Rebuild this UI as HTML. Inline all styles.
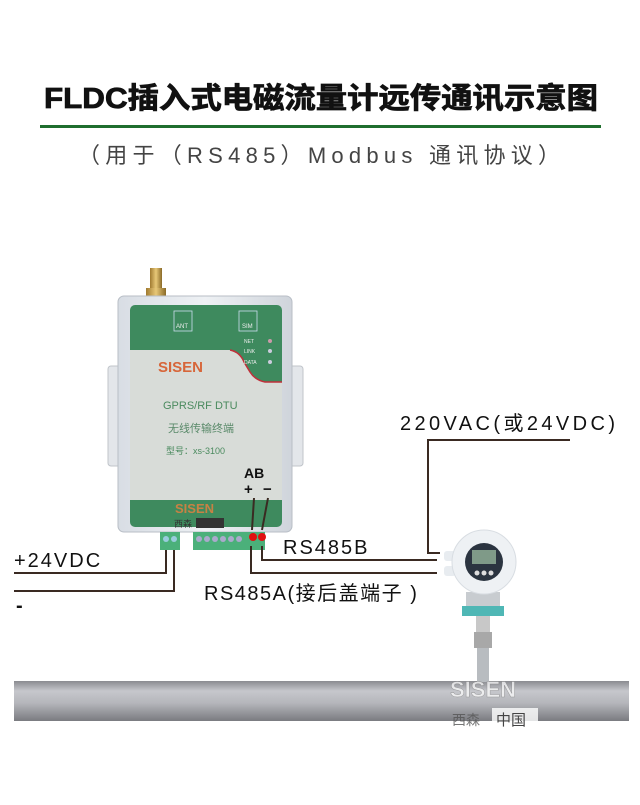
<!DOCTYPE html>
<html><head><meta charset="utf-8"><style>
html,body{margin:0;padding:0;background:#fff}
svg text{font-family:"Liberation Sans","Noto Sans CJK SC",sans-serif}
</style></head><body>
<svg width="640" height="800" viewBox="0 0 640 800" xmlns="http://www.w3.org/2000/svg">
<defs>
<linearGradient id="pipe" x1="0" y1="0" x2="0" y2="1">
<stop offset="0" stop-color="#8a8b90"/><stop offset="0.25" stop-color="#c6c7cc"/><stop offset="0.55" stop-color="#b5b6bb"/><stop offset="1" stop-color="#7a7b80"/>
</linearGradient>
<linearGradient id="body" x1="0" y1="0" x2="1" y2="0">
<stop offset="0" stop-color="#d8dde4"/><stop offset="0.5" stop-color="#eef1f4"/><stop offset="1" stop-color="#cfd4db"/>
</linearGradient>
<linearGradient id="gold" x1="0" y1="0" x2="1" y2="0">
<stop offset="0" stop-color="#a07a30"/><stop offset="0.5" stop-color="#e8c878"/><stop offset="1" stop-color="#8a6a28"/>
</linearGradient>
</defs>
<text x="44" y="108" font-size="29" font-weight="bold" fill="#111" stroke="#111" stroke-width="0.8" textLength="554" lengthAdjust="spacingAndGlyphs">FLDC插入式电磁流量计远传通讯示意图</text>
<rect x="40" y="125" width="561" height="3" fill="#1f6e2e"/>
<text x="78" y="163" font-size="22" fill="#444" textLength="482" lengthAdjust="spacing">（用于（RS485）Modbus 通讯协议）</text>

<!-- pipe -->
<rect x="14" y="681" width="615" height="40" fill="url(#pipe)"/>

<!-- DTU -->
<rect x="150" y="268" width="12" height="22" fill="url(#gold)"/>
<rect x="146" y="288" width="20" height="10" fill="url(#gold)"/>
<rect x="108" y="366" width="20" height="100" rx="3" fill="#e3e6ea" stroke="#c0c4ca"/>
<rect x="283" y="366" width="20" height="100" rx="3" fill="#e3e6ea" stroke="#c0c4ca"/>
<rect x="118" y="296" width="174" height="236" rx="6" fill="url(#body)" stroke="#b8bec6"/>
<rect x="130" y="305" width="152" height="222" rx="5" fill="#3e8a5e"/>
<path d="M130 350 L230 350 Q240 352 244 362 L250 372 Q255 380 265 382 L282 382 L282 500 L130 500 Z" fill="#d8dcd8"/>
<path d="M230 350 Q240 352 244 362 L250 372 Q255 380 265 382 L282 382" fill="none" stroke="#c0303a" stroke-width="1.5"/>
<rect x="174" y="311" width="18" height="20" fill="none" stroke="#cde" stroke-width="0.8"/>
<text x="176" y="328" font-size="6" fill="#eee">ANT</text>
<rect x="239" y="311" width="18" height="20" fill="none" stroke="#cde" stroke-width="0.8"/>
<text x="242" y="328" font-size="6" fill="#eee">SIM</text>
<text x="244" y="343" font-size="5" fill="#eee">NET</text><circle cx="270" cy="341" r="2" fill="#c9a"/>
<text x="244" y="353" font-size="5" fill="#eee">LINK</text><circle cx="270" cy="351" r="2" fill="#ccd"/>
<text x="244" y="364" font-size="5" fill="#eee">DATA</text><circle cx="270" cy="362" r="2" fill="#ccd"/>
<text x="158" y="372" font-size="15" font-weight="bold" fill="#d7663a">SISEN</text>
<text x="163" y="409" font-size="11" fill="#4a8a5e">GPRS/RF DTU</text>
<text x="168" y="432" font-size="11" fill="#5a8a6a">无线传输终端</text>
<text x="166" y="454" font-size="9" fill="#4a8a5e">型号：xs-3100</text>
<text x="244" y="478" font-size="14" font-weight="bold" font-family="Liberation Serif" fill="#111">AB</text>
<text x="244" y="494" font-size="15" font-weight="bold" fill="#111">+</text>
<text x="263" y="494" font-size="15" font-weight="bold" fill="#111">−</text>
<text x="175" y="513" font-size="13" font-weight="bold" fill="#e08040" opacity="0.85">SISEN</text>
<text x="174" y="527" font-size="9" fill="#333">西森</text>
<rect x="196" y="518" width="28" height="10" fill="#333"/>
<!-- terminals -->
<rect x="160" y="532" width="20" height="18" fill="#4bb07a"/>
<circle cx="166" cy="539" r="3" fill="#9cd"/><circle cx="174" cy="539" r="3" fill="#9cd"/>
<rect x="193" y="532" width="72" height="18" fill="#4bb07a"/>
<g fill="#aac">
<circle cx="199" cy="539" r="3"/><circle cx="207" cy="539" r="3"/><circle cx="215" cy="539" r="3"/><circle cx="223" cy="539" r="3"/><circle cx="231" cy="539" r="3"/><circle cx="239" cy="539" r="3"/></g>
<!-- wires -->
<g fill="none" stroke="#3a2a22" stroke-width="2">
<path d="M14 573 H166 V550"/>
<path d="M14 591 H174 V550"/>
<path d="M251 546 V573 H437"/>
<path d="M262 546 V560 H437"/>
<path d="M252 530 L254 498 M262 530 L268 498"/>
<path d="M570 440 H428 V553 H440"/>
</g>
<circle cx="253" cy="537" r="4" fill="#e01010"/><circle cx="262" cy="537" r="4" fill="#e01010"/>
<!-- labels -->
<text x="14" y="567" font-size="20" fill="#111" letter-spacing="2">+24VDC</text>
<text x="16" y="612" font-size="20" font-weight="bold" fill="#111">-</text>
<text x="283" y="554" font-size="20" fill="#111" letter-spacing="2">RS485B</text>
<text x="204" y="600" font-size="20" fill="#111" letter-spacing="1.5">RS485A(接后盖端子 )</text>
<text x="400" y="430" font-size="20" fill="#111" textLength="215" lengthAdjust="spacing">220VAC(或24VDC)</text>
<!-- flowmeter -->
<rect x="476" y="600" width="14" height="40" fill="#c8c8c8"/>
<rect x="477" y="632" width="12" height="50" fill="#b8bcc0"/>
<rect x="474" y="632" width="18" height="16" fill="#a8a8a8"/>
<rect x="462" y="606" width="42" height="10" fill="#4fb7b5"/>
<rect x="466" y="592" width="34" height="14" fill="#c8ccd0"/>
<rect x="444" y="551" width="12" height="10" rx="3" fill="#e8ecf0"/>
<rect x="444" y="566" width="12" height="10" rx="3" fill="#e8ecf0"/>
<circle cx="484" cy="562" r="32" fill="#eef1f4" stroke="#d8dde2"/>
<circle cx="484" cy="562" r="19" fill="#2b3440"/>
<rect x="472" y="550" width="24" height="14" fill="#7f9a88"/>
<circle cx="477" cy="573" r="2.5" fill="#ddd"/><circle cx="484" cy="573" r="2.5" fill="#ddd"/><circle cx="491" cy="573" r="2.5" fill="#ddd"/>
<!-- watermark -->
<text x="450" y="697" font-size="22" font-weight="bold" fill="#fff" opacity="0.7" stroke="#888" stroke-width="0.5">SISEN</text>
<text x="452" y="725" font-size="14" fill="#555" opacity="0.8">西森</text>
<rect x="492" y="708" width="46" height="22" fill="#fff" opacity="0.8"/>
<text x="496" y="725" font-size="15" fill="#444">中国</text>
</svg>
</body></html>
